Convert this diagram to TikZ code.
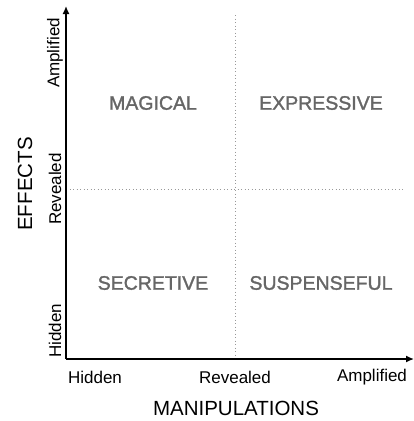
\documentclass[tikz,border=0pt]{standalone}
\usepackage{fontspec}
\setmainfont{Liberation Sans}
\newfontfamily\quadfont[FakeBold=1.5]{Liberation Sans}
\usetikzlibrary{arrows.meta}
\definecolor{quadgray}{HTML}{666666}
\definecolor{dotgray}{HTML}{999999}
\tikzset{
  axisline/.style={line width=1.4pt, -{Latex[length=8pt,width=7pt]}},
  gridline/.style={dotgray, line width=0.9pt, dash pattern=on 0.9pt off 2.6pt},
  quadlabel/.style={text=quadgray, font=\quadfont\fontsize{19.5}{22}\selectfont, inner sep=0pt},
  ticklabel/.style={font=\fontsize{17}{20}\selectfont, inner sep=0pt},
  axistitle/.style={font=\fontsize{20.5}{24}\selectfont, inner sep=0pt},
}
\begin{document}
\begin{tikzpicture}[x=1pt,y=-1pt]
\useasboundingbox (0,0) rectangle (414,421);
% coordinates
\coordinate (origin) at (66,359);
\coordinate (ytip) at (66,6);
\coordinate (xtip) at (414,359);
\coordinate (vtop) at (235,15);
\coordinate (vbot) at (235,359);
\coordinate (hleft) at (66,189);
\coordinate (hright) at (403,189);
% dotted grid
\draw[gridline] (vtop) -- (vbot);
\draw[gridline] (hleft) -- (hright);
% axes
\draw[axisline] (origin) -- (ytip);
\draw[axisline] (origin) -- (xtip);
% quadrant labels
\node[quadlabel] (magical) at (153,103) {MAGICAL};
\node[quadlabel] (expressive) at (321,103) {EXPRESSIVE};
\node[quadlabel] (secretive) at (153,283) {SECRETIVE};
\node[quadlabel] (suspenseful) at (321,283) {SUSPENSEFUL};
% y tick labels
\node[ticklabel, rotate=90] (yamp) at (55,53) {Amplified};
\node[ticklabel, rotate=90] (yrev) at (55,189) {Revealed};
\node[ticklabel, rotate=90] (yhid) at (55,331) {Hidden};
% x tick labels
\node[ticklabel] (xhid) at (95,377) {Hidden};
\node[ticklabel] (xrev) at (235,377) {Revealed};
\node[ticklabel] (xamp) at (372,377) {Amplified};
% axis titles
\node[axistitle, rotate=90] (ytitle) at (25,184) {EFFECTS};
\node[axistitle] (xtitle) at (236,408) {MANIPULATIONS};
\end{tikzpicture}
\end{document}
